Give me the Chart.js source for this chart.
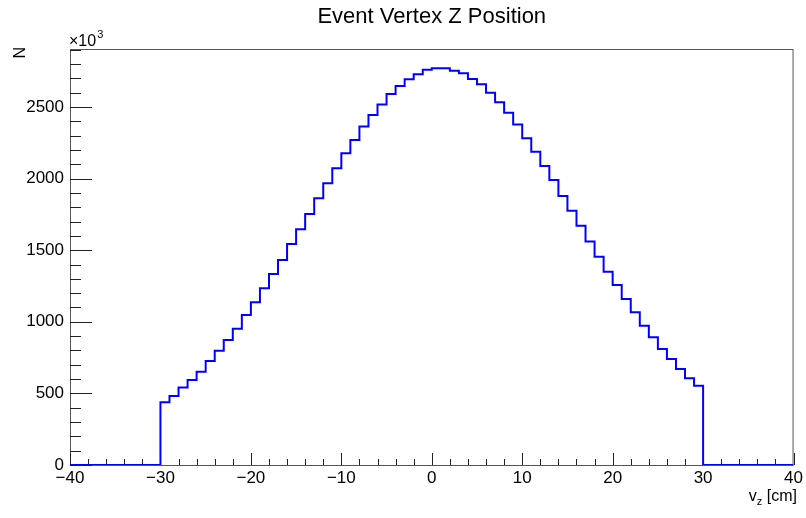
<!DOCTYPE html>
<html>
<head>
<meta charset="utf-8">
<title>Event Vertex Z Position</title>
<script src="https://cdn.jsdelivr.net/npm/chart.js@4.4.1/dist/chart.umd.min.js"></script>
<style>
    html, body { margin: 0; padding: 0; background: #fff; }
    #wrap { width: 806px; height: 518px; position: relative; }
</style>
</head>
<body>
<div id="wrap"><canvas id="vzChart"></canvas></div>
<script>
// Histogram binning (cm)
const xMin = -40;
const xMax = 40;
const binWidth = 1;

// Counts per bin, in units of 10^3, bins from -40 to 39
const emptyLow = [0, 0, 0, 0, 0, 0, 0, 0, 0, 0];
const countsLeft = [
    438, 481, 541, 594, 652, 726, 798, 873, 952, 1047,
    1136, 1234, 1334, 1432, 1543, 1646, 1753, 1862, 1967, 2072,
    2177, 2270, 2363, 2444, 2518, 2591, 2647, 2693, 2728, 2760
];
const countsRight = [
    2770, 2770, 2753, 2735, 2695, 2658, 2600, 2533, 2460, 2377,
    2281, 2188, 2088, 1990, 1878, 1776, 1671, 1560, 1455, 1350,
    1257, 1159, 1066, 973, 892, 810, 740, 670, 605, 554
];
const emptyHigh = [0, 0, 0, 0, 0, 0, 0, 0, 0, 0];
const counts = [...emptyLow, ...countsLeft, ...countsRight, ...emptyHigh];

// Axis ticks
const xTicks = [-40, -30, -20, -10, 0, 10, 20, 30, 40];
const yTicks = [0, 500, 1000, 1500, 2000, 2500];
const yMax = 2905;

const FONT = '"Liberation Sans", Arial, Helvetica, sans-serif';

// histogram as step line: value of point i holds until the next edge
const points = counts.map((c, i) => ({ x: xMin + i * binWidth, y: c }));
points.push({ x: xMax, y: counts[counts.length - 1] });

// ROOT style frame, inward ticks and text
const rootFrame = {
    id: 'rootFrame',
    beforeDatasetsDraw(chart) {
        const { ctx, chartArea: a, scales: { x, y } } = chart;
        ctx.save();
        ctx.strokeStyle = '#555';
        ctx.lineWidth = 1;
        ctx.strokeRect(a.left + 0.5, a.top + 0.5, a.right - a.left - 1, a.bottom - a.top);

        ctx.strokeStyle = '#222';
        ctx.beginPath();
        // x ticks: major every 10, minor every 2
        for (let v = xMin; v <= xMax; v += 2) {
            const px = Math.round(x.getPixelForValue(v)) + 0.5;
            const len = (v % 10 === 0) ? 12 : 6;
            ctx.moveTo(px, a.bottom);
            ctx.lineTo(px, a.bottom - len);
        }
        // y ticks: major every 500, minor every 100
        for (let v = 0; v <= yMax; v += 100) {
            const py = Math.round(y.getPixelForValue(v)) + 0.5;
            const len = (v % 500 === 0) ? 22 : 11;
            ctx.moveTo(a.left, py);
            ctx.lineTo(a.left + len, py);
        }
        ctx.stroke();
        ctx.restore();
    },
    afterDraw(chart) {
        const { ctx, chartArea: a } = chart;
        ctx.save();
        ctx.fillStyle = '#000';

        // title
        ctx.font = '22px ' + FONT;
        ctx.textAlign = 'center';
        ctx.textBaseline = 'alphabetic';
        ctx.fillText('Event Vertex Z Position', (a.left + a.right) / 2, 23);

        // exponent label
        ctx.textAlign = 'left';
        ctx.font = '16px ' + FONT;
        ctx.fillText('\u00d710', 69, 46);
        const w = ctx.measureText('\u00d710').width;
        ctx.font = '11px ' + FONT;
        ctx.fillText('3', 69 + w + 1, 38);

        // y title
        ctx.save();
        ctx.translate(25, 47);
        ctx.rotate(-Math.PI / 2);
        ctx.font = '16px ' + FONT;
        ctx.textAlign = 'right';
        ctx.fillText('N', 0, 0);
        ctx.restore();

        // x title: v_z [cm], right aligned to frame
        ctx.font = '16px ' + FONT;
        const tail = ' [cm]';
        ctx.font = '16px ' + FONT;
        const wTail = ctx.measureText(tail).width;
        const wV = ctx.measureText('v').width;
        ctx.font = '11px ' + FONT;
        const wZ = ctx.measureText('z').width;
        let px = 797 - wTail - wZ - wV;
        const base = 501;
        ctx.textAlign = 'left';
        ctx.font = '16px ' + FONT;
        ctx.fillText('v', px, base);
        ctx.font = '11px ' + FONT;
        ctx.fillText('z', px + wV, base + 4);
        ctx.font = '16px ' + FONT;
        ctx.fillText(tail, px + wV + wZ, base);
        ctx.restore();
    }
};

new Chart(document.getElementById('vzChart'), {
    type: 'line',
    data: {
        datasets: [{
            label: 'vz',
            data: points,
            stepped: true,
            borderColor: '#0000ff',
            borderWidth: 2,
            pointRadius: 0,
            fill: false
        }]
    },
    options: {
        responsive: true,
        maintainAspectRatio: false,
        animation: false,
        layout: {
            padding: { left: 0, right: 11, top: 49, bottom: 0 }
        },
        plugins: {
            legend: { display: false },
            tooltip: { enabled: false },
            title: { display: false }
        },
        scales: {
            x: {
                type: 'linear',
                min: xMin,
                max: xMax,
                grid: { display: false, drawTicks: false },
                border: { display: false },
                afterBuildTicks(scale) {
                    scale.ticks = xTicks.map(v => ({ value: v }));
                },
                afterFit(scale) {
                    scale.height = 53;
                },
                ticks: {
                    padding: 3,
                    color: '#000',
                    font: { family: FONT, size: 17 },
                    maxRotation: 0,
                    callback: v => (v < 0 ? '\u2212' + Math.abs(v) : String(v))
                }
            },
            y: {
                min: 0,
                max: yMax,
                grid: { display: false, drawTicks: false },
                border: { display: false },
                afterBuildTicks(scale) {
                    scale.ticks = yTicks.map(v => ({ value: v }));
                },
                afterFit(scale) {
                    scale.width = 70;
                },
                ticks: {
                    padding: 6,
                    color: '#000',
                    font: { family: FONT, size: 17 },
                    callback: v => String(v)
                }
            }
        }
    },
    plugins: [rootFrame]
});
</script>
</body>
</html>
